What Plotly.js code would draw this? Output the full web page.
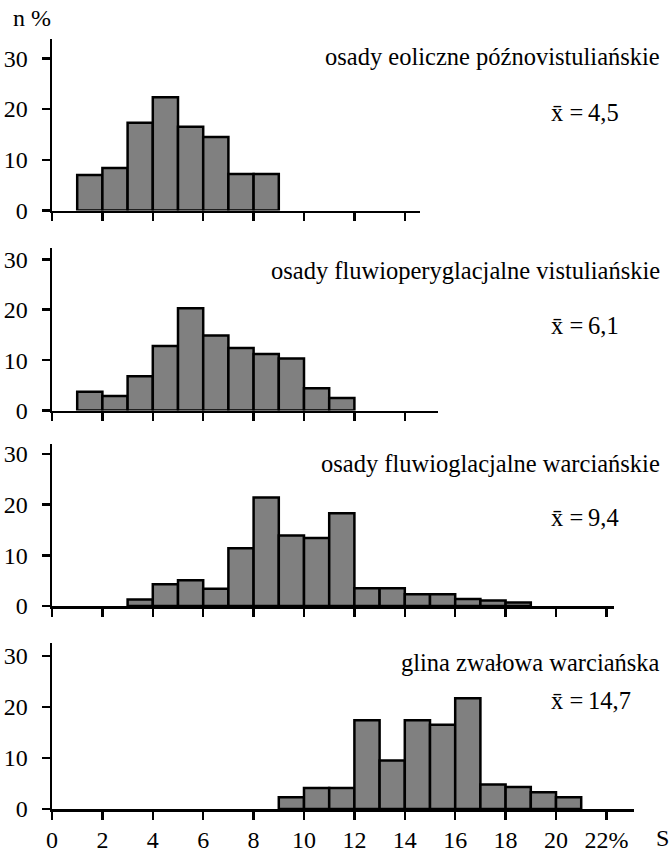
<!DOCTYPE html>
<html>
<head>
<meta charset="utf-8">
<script src="https://cdn.plot.ly/plotly-3.0.1.min.js"></script>
<style>html,body{margin:0;padding:0;background:#fff;}#chart{width:671px;height:854px;}</style>
</head>
<body>
<div id="chart"></div>
<script>
// ---- data ----
const titles = [
  'osady eoliczne późnovistuliańskie',
  'osady fluwioperyglacjalne vistuliańskie',
  'osady fluwioglacjalne warciańskie',
  'glina zwałowa warciańska'
];
const means = ['4,5', '6,1', '9,4', '14,7'];

const bins1 = [1.5, 2.5, 3.5, 4.5, 5.5, 6.5, 7.5, 8.5];
const vals1 = [7.0, 8.4, 17.3, 22.3, 16.5, 14.5, 7.2, 7.2];

const bins2 = [1.5, 2.5, 3.5, 4.5, 5.5, 6.5, 7.5, 8.5, 9.5, 10.5, 11.5];
const vals2 = [3.7, 2.9, 6.8, 12.8, 20.3, 14.9, 12.4, 11.2, 10.3, 4.4, 2.5];

const bins3 = [3.5, 4.5, 5.5, 6.5, 7.5, 8.5, 9.5, 10.5, 11.5, 12.5, 13.5, 14.5, 15.5, 16.5, 17.5, 18.5];
const vals3 = [1.3, 4.3, 5.1, 3.4, 11.4, 21.4, 13.9, 13.4, 18.3, 3.5, 3.5, 2.3, 2.3, 1.4, 1.1, 0.7];

const bins4 = [9.5, 10.5, 11.5, 12.5, 13.5, 14.5, 15.5, 16.5, 17.5, 18.5, 19.5, 20.5];
const vals4 = [2.3, 4.1, 4.1, 17.4, 9.5, 17.4, 16.5, 21.7, 4.8, 4.3, 3.3, 2.3];

const xTickVals = [0, 2, 4, 6, 8, 10, 12, 14, 16, 18, 20, 22];
const xTickText = ['0', '2', '4', '6', '8', '10', '12', '14', '16', '18', '20', '22%'];
const yTickVals = [0, 10, 20, 30];

// ---- layout geometry (pixels) ----
const W = 671, H = 854, ML = 52;
const PW = W - ML;
const xScale = 25.2;               // px per unit on x
const xEnds = [14.6, 15.3, 22.3, 23.1];
const zeroPx = [210.5, 410.5, 606, 809];
const topPx = [39.3, 248.3, 444, 643];
const thirtyPx = [58.3, 259.3, 454, 656];
const titleY = [57, 270, 463, 662];
const meanY = [112, 325, 517, 700];
const meanX = [621, 621, 621, 633];

const px2x = p => (p - ML) / PW;
const px2y = p => 1 - p / H;

const allBins = [bins1, bins2, bins3, bins4];
const allVals = [vals1, vals2, vals3, vals4];

const font = {family: 'Liberation Serif, Times New Roman, serif', color: '#000'};
const f = s => Object.assign({size: s}, font);
const data = [];
const layout = {
  width: W, height: H,
  margin: {l: ML, r: 0, t: 0, b: 0},
  paper_bgcolor: '#fff', plot_bgcolor: 'rgba(0,0,0,0)',
  showlegend: false,
  bargap: 0,
  font: f(24),
  annotations: []
};

for (let i = 0; i < 4; i++) {
  const sfx = i === 0 ? '' : String(i + 1);
  data.push({
    type: 'bar',
    x: allBins[i], y: allVals[i], width: 1,
    xaxis: 'x' + sfx, yaxis: 'y' + sfx,
    marker: {color: '#808080', line: {color: '#000', width: 2.5}},
    hoverinfo: 'skip'
  });
  const perUnit = (zeroPx[i] - thirtyPx[i]) / 30;
  const yTop = (zeroPx[i] - topPx[i]) / perUnit;
  layout['xaxis' + sfx] = {
    anchor: 'y' + sfx,
    domain: [0, xEnds[i] * xScale / PW],
    range: [0, xEnds[i]],
    showline: true, linecolor: '#000', linewidth: 2.5,
    ticks: 'outside', ticklen: 8, tickwidth: 2.5, tickcolor: '#000',
    tickmode: 'array', tickvals: xTickVals, ticktext: xTickText,
    showticklabels: i === 3,
    tickfont: f(24),
    showgrid: false, zeroline: false, fixedrange: true
  };
  layout['yaxis' + sfx] = {
    anchor: 'x' + sfx,
    domain: [px2y(zeroPx[i]), px2y(topPx[i])],
    range: [0, yTop],
    showline: true, linecolor: '#000', linewidth: 2.5,
    ticks: 'outside', ticklen: 8, tickwidth: 2.5, tickcolor: '#000',
    tickmode: 'array', tickvals: yTickVals,
    ticklabelstandoff: 9,
    tickfont: f(24),
    showgrid: false, zeroline: false, fixedrange: true
  };
  layout.annotations.push({
    xref: 'paper', yref: 'paper', x: px2x(662), y: px2y(titleY[i]),
    xanchor: 'right', yanchor: 'middle', showarrow: false,
    text: titles[i], font: f(24.5)
  });
  layout.annotations.push({
    xref: 'paper', yref: 'paper', x: px2x(meanX[i]), y: px2y(meanY[i]),
    xanchor: 'right', yanchor: 'middle', showarrow: false,
    text: 'x\u0304 =\u2009' + means[i], font: f(24.5)
  });
}
layout.annotations.push({
  xref: 'paper', yref: 'paper', x: px2x(11), y: px2y(18),
  xanchor: 'left', yanchor: 'middle', showarrow: false,
  text: 'n %', font: f(24)
});
layout.annotations.push({
  xref: 'paper', yref: 'paper', x: px2x(654), y: px2y(838),
  xanchor: 'left', yanchor: 'middle', showarrow: false,
  text: 'S', font: f(24)
});

Plotly.newPlot('chart', data, layout, {staticPlot: true, displayModeBar: false});
</script>
</body>
</html>
